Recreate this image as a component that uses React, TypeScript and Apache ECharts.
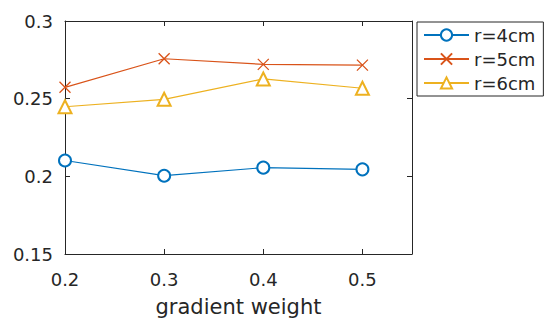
import React, { useEffect, useRef } from "react";
import * as echarts from "echarts";

const xValues = [0.2, 0.3, 0.4, 0.5];
const seriesNames = ["r=4cm", "r=5cm", "r=6cm"];
const r4 = [0.2102, 0.2004, 0.2056, 0.2045];
const r5 = [0.2573, 0.2757, 0.2721, 0.2716];
const r6 = [0.2448, 0.2496, 0.2627, 0.2567];
const xTicks = [0.2, 0.3, 0.4, 0.5];
const yTicks = [0.15, 0.2, 0.25, 0.3];

const BLUE = "#0072BD";
const RED = "#D95319";
const YELLOW = "#EDB120";
const AX = "#262626";
const FONT = "DejaVu Sans";

export default function App() {
  const ref = useRef<HTMLDivElement>(null);
  useEffect(() => {
    if (!ref.current) return;
    const chart = echarts.init(ref.current, undefined, { renderer: "svg" });
    const fmt = (v: number) => String(+v.toFixed(2));
    const mk = (d: number[]) => d.map((v, i) => [xValues[i], v]);
    const axisBase = {
      type: "value" as const,
      axisLine: { show: true, onZero: false, lineStyle: { color: AX, width: 1 } },
      axisTick: { show: true, inside: true, length: 5, lineStyle: { color: AX } },
      splitLine: { show: false },
    };
    chart.setOption({
      animation: false,
      backgroundColor: "#fff",
      grid: { left: 65, top: 21, right: 138, bottom: 75, containLabel: false },
      legend: {
        orient: "vertical",
        left: 417,
        top: 22,
        width: 110,
        padding: [2, 8, 2, 6],
        itemGap: 2,
        itemWidth: 45,
        itemHeight: 14,
        borderColor: AX,
        borderWidth: 1,
        backgroundColor: "#fff",
        textStyle: { fontFamily: FONT, fontSize: 18, lineHeight: 22, color: AX },
        data: seriesNames,
      },
      xAxis: [
        {
          ...axisBase,
          position: "bottom",
          min: 0.2,
          max: 0.55,
          axisTick: { ...axisBase.axisTick, customValues: xTicks },
          axisLabel: {
            customValues: xTicks,
            formatter: fmt,
            margin: 16,
            fontFamily: FONT,
            fontSize: 18,
            color: AX,
          },
          name: "gradient weight",
          nameLocation: "middle",
          nameGap: 42,
          nameTextStyle: { fontFamily: FONT, fontSize: 21, color: AX },
        },
        {
          ...axisBase,
          position: "top",
          min: 0.2,
          max: 0.55,
          axisTick: { ...axisBase.axisTick, customValues: xTicks },
          axisLabel: { show: false },
        },
      ],
      yAxis: [
        {
          ...axisBase,
          position: "left",
          min: 0.15,
          max: 0.3,
          axisTick: { ...axisBase.axisTick, customValues: yTicks },
          axisLabel: {
            customValues: yTicks,
            formatter: fmt,
            margin: 12,
            fontFamily: FONT,
            fontSize: 18,
            color: AX,
          },
        },
        {
          ...axisBase,
          position: "right",
          min: 0.15,
          max: 0.3,
          axisTick: { ...axisBase.axisTick, customValues: yTicks },
          axisLabel: { show: false },
        },
      ],
      series: [
        {
          name: seriesNames[0],
          type: "line",
          data: mk(r4),
          symbol: "emptyCircle",
          symbolSize: 12,
          lineStyle: { color: BLUE, width: 1.2 },
          itemStyle: { color: BLUE, borderWidth: 1.3 },
        },
        {
          name: seriesNames[1],
          type: "line",
          data: mk(r5),
          symbol: "path://M0,0L10,10M10,0L0,10",
          symbolSize: 11,
          lineStyle: { color: RED, width: 1.2 },
          itemStyle: { color: RED, borderColor: RED, borderWidth: 1.3 },
        },
        {
          name: seriesNames[2],
          type: "line",
          data: mk(r6),
          symbol: "emptyTriangle",
          symbolSize: 13,
          lineStyle: { color: YELLOW, width: 1.2 },
          itemStyle: { color: YELLOW, borderWidth: 1.3 },
        },
      ],
    });
    return () => chart.dispose();
  }, []);
  return (
    <div
      ref={ref}
      style={{ position: "fixed", left: 0, top: 0, width: 550, height: 329 }}
    />
  );
}
